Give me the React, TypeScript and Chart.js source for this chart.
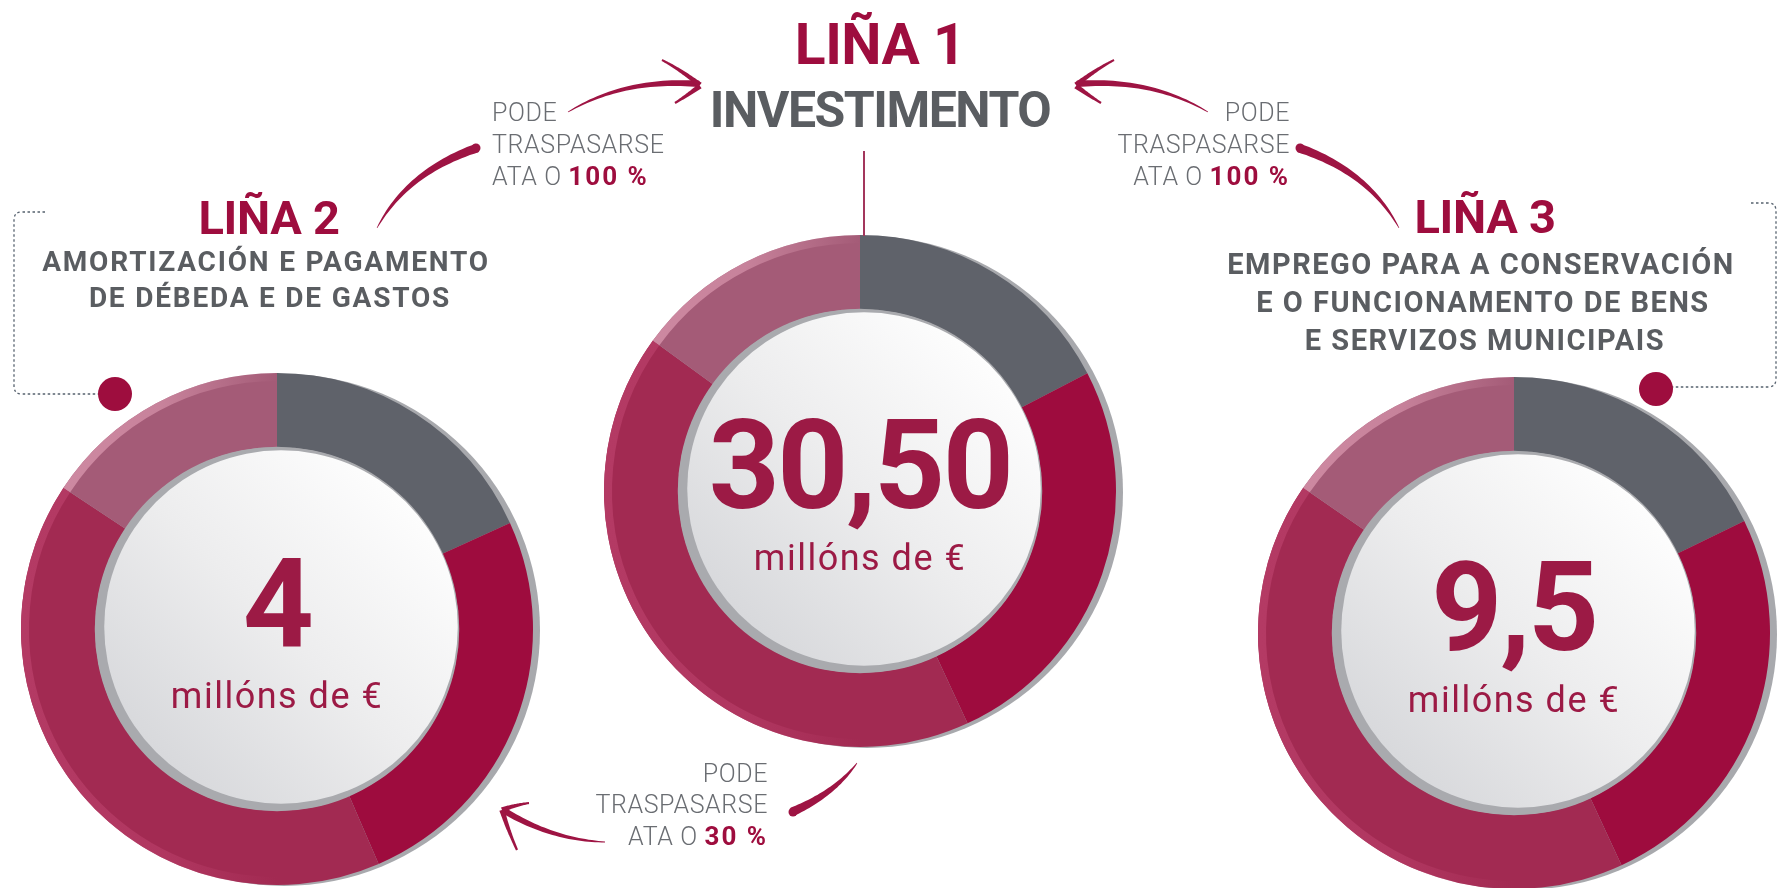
import React, { useEffect, useRef } from "react";
import { Chart, registerables } from "chart.js";

Chart.register(...registerables);

// ---------- DATA ----------
const segmentLabels = ["Segmento gris", "Segmento carmesí", "Segmento granate", "Segmento malva"];
const linea1Shares = [17.4, 25.7, 41.9, 15.0];
const linea2Shares = [18.2, 25.3, 40.8, 15.7];
const linea3Shares = [17.8, 25.3, 41.5, 15.4];
const segmentColors = ["#5f626a", "#9e0c3e", "#a22a52", "#a45b77"];
const rimColors = [null, null, "180,58,100", "208,140,164"];

const linea1Amount = "30,50";
const linea2Amount = "4";
const linea3Amount = "9,5";
const amountUnit = "millóns de €";

const linea1Title = ["LIÑA 1", "INVESTIMENTO"];
const linea2Title = ["LIÑA 2", "AMORTIZACIÓN E PAGAMENTO", "DE DÉBEDA E DE GASTOS"];
const linea3Title = ["LIÑA 3", "EMPREGO PARA A CONSERVACIÓN", "E O FUNCIONAMENTO DE BENS", "E SERVIZOS MUNICIPAIS"];
const transferLines = ["PODE", "TRASPASARSE", "ATA O "];
const transferLimits = ["100 %", "100 %", "30 %"];

// ---------- STYLE ----------
const CRIMSON = "#9e0d3e";
const GREY = "#5a5d61";
const LIGHT_GREY = "#6a6d72";
const FONT = "Roboto, 'DejaVu Sans', sans-serif";
const RADIUS = 256;
const PAD = 12;

const donutDecor = {
  id: "donutDecor",
  beforeDatasetsDraw(chart: any) {
    const arcs = chart.getDatasetMeta(0).data as any[];
    if (!arcs.length) return;
    const { x, y, outerRadius } = arcs[0];
    const ctx = chart.ctx as CanvasRenderingContext2D;
    ctx.save();
    ctx.fillStyle = "#a8a9ad";
    ctx.beginPath();
    ctx.arc(x + 7, y + 1, outerRadius, 0, Math.PI * 2);
    ctx.fill();
    ctx.restore();
  },
  afterDatasetsDraw(chart: any) {
    const arcs = chart.getDatasetMeta(0).data as any[];
    if (!arcs.length) return;
    const { x, y, outerRadius, innerRadius } = arcs[0];
    const ctx = chart.ctx as CanvasRenderingContext2D;
    ctx.save();
    const rimW = 8;
    arcs.forEach((a, i) => {
      const c = rimColors[i];
      if (!c) return;
      const g = ctx.createLinearGradient(x - outerRadius, 0, x, 0);
      g.addColorStop(0, `rgba(${c},1)`);
      g.addColorStop(0.55, `rgba(${c},0.8)`);
      g.addColorStop(1, `rgba(${c},0)`);
      ctx.strokeStyle = g;
      ctx.lineWidth = rimW;
      ctx.beginPath();
      ctx.arc(x, y, outerRadius - rimW / 2, a.startAngle, a.endAngle);
      ctx.stroke();
    });
    // inner grey ring
    ctx.fillStyle = "#a9aaae";
    ctx.beginPath();
    ctx.arc(x, y, innerRadius + 0.5, 0, Math.PI * 2);
    ctx.fill();
    // white disc
    const r = innerRadius - 5;
    const wx = x + 4;
    const wy = y - 2;
    const g2 = ctx.createLinearGradient(wx + r * 0.7, wy - r * 0.7, wx - r * 0.7, wy + r * 0.7);
    g2.addColorStop(0, "#fdfdfd");
    g2.addColorStop(0.5, "#ededee");
    g2.addColorStop(1, "#d8d9dc");
    ctx.fillStyle = g2;
    ctx.beginPath();
    ctx.arc(wx, wy, r, 0, Math.PI * 2);
    ctx.fill();
    ctx.restore();
  },
};

function Donut({ values, cx, cy }: { values: number[]; cx: number; cy: number }) {
  const ref = useRef<HTMLCanvasElement>(null);
  useEffect(() => {
    const chart = new Chart(ref.current as HTMLCanvasElement, {
      type: "doughnut",
      data: {
        labels: segmentLabels,
        datasets: [
          {
            data: values,
            backgroundColor: segmentColors,
            borderWidth: 0,
            hoverOffset: 0,
            offset: 0,
          } as any,
        ],
      },
      options: {
        animation: false,
        responsive: false,
        maintainAspectRatio: false,
        cutout: "71%",
        events: [],
        layout: { padding: PAD },
        plugins: { legend: { display: false }, tooltip: { enabled: false } },
      } as any,
      plugins: [donutDecor as any],
    });
    return () => chart.destroy();
  }, [values]);
  const size = 2 * (RADIUS + PAD);
  return (
    <canvas
      ref={ref}
      width={size}
      height={size}
      style={{ position: "absolute", left: cx - RADIUS - PAD, top: cy - RADIUS - PAD, width: size, height: size }}
    />
  );
}

// tapered brush stroke along a quadratic curve
type P = [number, number];
function brush(p0: P, p1: P, p2: P, w0: number, w2: number, mirror = 0): string {
  const mx = (v: number) => (mirror ? mirror - v : v);
  const N = 32;
  const L: P[] = [];
  const R: P[] = [];
  for (let i = 0; i <= N; i++) {
    const t = i / N;
    const x = (1 - t) * (1 - t) * p0[0] + 2 * t * (1 - t) * p1[0] + t * t * p2[0];
    const y = (1 - t) * (1 - t) * p0[1] + 2 * t * (1 - t) * p1[1] + t * t * p2[1];
    const dx = 2 * (1 - t) * (p1[0] - p0[0]) + 2 * t * (p2[0] - p1[0]);
    const dy = 2 * (1 - t) * (p1[1] - p0[1]) + 2 * t * (p2[1] - p1[1]);
    const len = Math.hypot(dx, dy) || 1;
    const nx = -dy / len;
    const ny = dx / len;
    const h = (w0 + (w2 - w0) * Math.pow(t, 0.8)) / 2;
    L.push([x + nx * h, y + ny * h]);
    R.push([x - nx * h, y - ny * h]);
  }
  const pts = [...L, ...R.reverse()];
  return "M" + pts.map((p) => `${mx(p[0]).toFixed(1)},${p[1].toFixed(1)}`).join(" L") + " Z";
}

function Arrow1({ mirror = 0 }: { mirror?: number }) {
  const mx = (v: number) => (mirror ? mirror - v : v);
  return (
    <g fill="#9e1443">
      <path d={brush([568, 112], [625, 78], [699, 84], 0.8, 6.5, mirror)} />
      <path d={brush([700, 85], [681, 70], [662, 60], 5.5, 2, mirror)} />
      <path d={brush([700, 86], [688, 95], [675, 103], 5.5, 2.2, mirror)} />
      <path d={brush([377, 228], [407, 172], [477, 148], 0.6, 9, mirror)} />
      <circle cx={mx(476)} cy={148} r={4.5} />
    </g>
  );
}

function Arrow3() {
  return (
    <g fill="#9e1443">
      <path d={brush([605, 842], [552, 840], [503, 810], 0.8, 6.5)} />
      <path d={brush([502, 810], [515, 805], [529, 803], 5.5, 2)} />
      <path d={brush([502, 810], [508, 830], [517, 850], 5.5, 2.2)} />
      <path d={brush([857, 763], [835, 793], [792, 812], 0.6, 9)} />
      <circle cx={793} cy={812} r={4.5} />
    </g>
  );
}

function TransferText({ x, ys, anchor, limit }: { x: number; ys: number[]; anchor: "start" | "end"; limit: string }) {
  return (
    <g fontFamily={FONT} fontSize={25} fontWeight={300} fill={LIGHT_GREY} textAnchor={anchor}>
      <text x={x} y={ys[0]} style={{ letterSpacing: "0.6px" }}>{transferLines[0]}</text>
      <text x={x} y={ys[1]} style={{ letterSpacing: "0.6px" }}>{transferLines[1]}</text>
      <text x={x} y={ys[2]} xmlSpace="preserve" style={{ letterSpacing: "0.6px" }}>
        {transferLines[2]}
        <tspan fontWeight={700} fontSize={26} fill={CRIMSON} style={{ letterSpacing: "2px" }}>{limit}</tspan>
      </text>
    </g>
  );
}

function Amount({ cx, cy, value }: { cx: number; cy: number; value: string }) {
  return (
    <g fontFamily={FONT} fill="#9c1a45" textAnchor="middle">
      <text x={cx} y={cy + 17} fontSize={124} fontWeight={700} style={{ letterSpacing: "-2.5px" }}>
        {value}
      </text>
      <text x={cx} y={cy + 79} fontSize={36} fontWeight={400} style={{ letterSpacing: "1.5px" }}>
        {amountUnit}
      </text>
    </g>
  );
}

export default function App() {
  const left = { cx: 277, cy: 629 };
  const mid = { cx: 860, cy: 491 };
  const right = { cx: 1514, cy: 633 };
  return (
    <div
      style={{
        position: "fixed",
        left: 0,
        top: 0,
        width: 1778,
        height: 888,
        overflow: "hidden",
        background: "#ffffff",
      }}
    >
      <Donut values={linea2Shares} cx={left.cx} cy={left.cy} />
      <Donut values={linea1Shares} cx={mid.cx} cy={mid.cy} />
      <Donut values={linea3Shares} cx={right.cx} cy={right.cy} />
      <svg width={1778} height={888} style={{ position: "absolute", left: 0, top: 0 }}>
        {/* connectors */}
        <path d="M45 212 H22 Q14 212 14 220 V386 Q14 394 22 394 H100" fill="none" stroke="#56616e" strokeWidth={1.3} strokeDasharray="2.5 2.5" />
        <circle cx={115} cy={394} r={17} fill={CRIMSON} />
        <path d="M1751 203 H1768 Q1776 203 1776 211 V379 Q1776 387 1768 387 H1672" fill="none" stroke="#56616e" strokeWidth={1.3} strokeDasharray="2.5 2.5" />
        <circle cx={1656} cy={389} r={17} fill={CRIMSON} />
        <line x1={864} y1={151} x2={864} y2={236} stroke="#a3365c" strokeWidth={2} />

        {/* arrows */}
        <Arrow1 />
        <Arrow1 mirror={1776} />
        <Arrow3 />

        {/* titles */}
        <g fontFamily={FONT} fontWeight={700} textAnchor="middle">
          <text x={880} y={64} fontSize={57} fill={CRIMSON} style={{ letterSpacing: "-0.5px" }}>{linea1Title[0]}</text>
          <text x={880} y={127} fontSize={50} fill={GREY} style={{ letterSpacing: "-1.5px" }}>{linea1Title[1]}</text>

          <text x={269} y={234} fontSize={47} fill={CRIMSON} style={{ letterSpacing: "-0.3px" }}>{linea2Title[0]}</text>
          <text x={266} y={271} fontSize={28} fill={GREY} style={{ letterSpacing: "1.8px" }}>{linea2Title[1]}</text>
          <text x={270} y={307} fontSize={28} fill={GREY} style={{ letterSpacing: "1.8px" }}>{linea2Title[2]}</text>

          <text x={1485} y={233} fontSize={47} fill={CRIMSON} style={{ letterSpacing: "-0.3px" }}>{linea3Title[0]}</text>
          <text x={1481} y={274} fontSize={29} fill={GREY} style={{ letterSpacing: "1.5px" }}>{linea3Title[1]}</text>
          <text x={1483} y={312} fontSize={29} fill={GREY} style={{ letterSpacing: "1.5px" }}>{linea3Title[2]}</text>
          <text x={1485} y={350} fontSize={29} fill={GREY} style={{ letterSpacing: "1.5px" }}>{linea3Title[3]}</text>
        </g>

        {/* transfer notes */}
        <TransferText x={492} ys={[121, 153, 185]} anchor="start" limit={transferLimits[0]} />
        <TransferText x={1290} ys={[121, 153, 185]} anchor="end" limit={transferLimits[1]} />
        <TransferText x={768} ys={[782, 813, 845]} anchor="end" limit={transferLimits[2]} />

        {/* amounts */}
        <Amount cx={mid.cx} cy={mid.cy} value={linea1Amount} />
        <Amount cx={left.cx} cy={left.cy} value={linea2Amount} />
        <Amount cx={right.cx} cy={right.cy} value={linea3Amount} />
      </svg>
    </div>
  );
}
